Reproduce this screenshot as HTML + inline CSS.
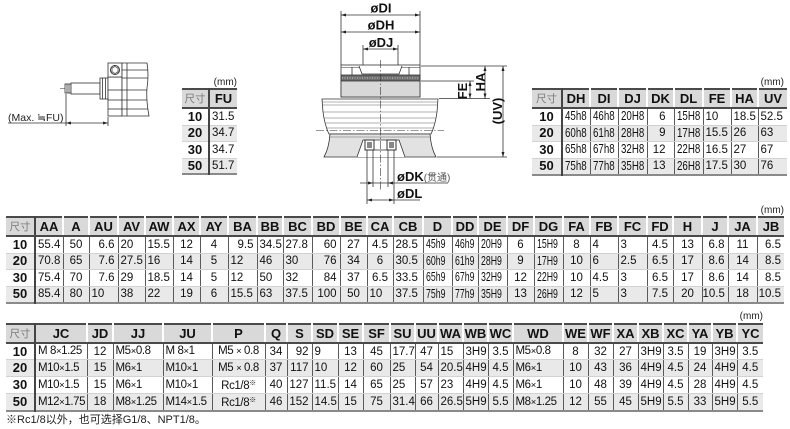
<!DOCTYPE html>
<html><head><meta charset="utf-8">
<style>
*{margin:0;padding:0;box-sizing:border-box}
html,body{width:790px;height:429px;overflow:hidden;background:#fff;font-family:"Liberation Sans","Noto Sans CJK SC",sans-serif;color:#1a1a1a}
.a{position:absolute}
.mm{position:absolute;font-size:10px;line-height:12px;color:#222;text-align:right}
table{position:absolute;border-collapse:collapse;table-layout:fixed;border-top:2px solid #4a4a4a;border-bottom:2px solid #8a8a8a;font-size:11.5px;line-height:14px;color:#111}
td{padding:0 0 0 2px;white-space:nowrap;overflow:hidden;border-left:1px solid #5a5a5a;border-bottom:1px solid #d2d2d2;text-align:left;vertical-align:middle}
tr.h td{background:#d9d9d9;font-weight:bold;font-size:13px;text-align:center;border-left:2px solid #fff;border-bottom:2px solid #4a4a4a;color:#111;padding:0}
tr.h td.z{font-weight:normal;font-size:10.5px;color:#7a7a7a}
tr.g td{background:#e9e9e9}
td.s{font-weight:bold;font-size:13px;text-align:center;border-left:none;padding:0}
td:nth-child(2){border-left:2px solid #444}
tr.h td:first-child{border-left:none}
tr.h td:nth-child(2){border-left:2px solid #444}
.c{text-align:center;padding:0}
.r{text-align:right;padding:0 3px 0 0}
.k{display:inline-block;transform:scaleX(.7);transform-origin:0 50%;font-size:12.5px}
.k2{display:inline-block;transform:scaleX(.78);transform-origin:0 50%;font-size:12.5px}
.m{font-size:11.5px;letter-spacing:-0.4px}
.m i{font-style:normal;font-size:9.5px}
sup{font-size:7px;vertical-align:4px}
.note{position:absolute;left:6px;top:413px;font-size:11px;line-height:14px;color:#222}
</style></head><body>

<svg class="a" style="left:0;top:0" width="790" height="429" viewBox="0 0 790 429">
<g stroke="#333" stroke-width="0.8" fill="none">
 <line x1="60" y1="88.5" x2="114" y2="88.5" stroke-dasharray="7,2,1.5,2" stroke-width="0.6"/>
 <rect x="65" y="84" width="6" height="9" fill="#fff"/>
 <line x1="67" y1="84" x2="67" y2="93"/><line x1="69" y1="84" x2="69" y2="93"/>
 <rect x="71" y="83" width="29" height="11" fill="#fff"/>
 <rect x="100" y="78" width="8" height="21" fill="#fff"/>
 <line x1="102.5" y1="78" x2="102.5" y2="99"/><line x1="105.5" y1="78" x2="105.5" y2="99"/>
 <rect x="108" y="77" width="14" height="39" fill="#fff"/>
 <line x1="108" y1="90" x2="122" y2="90"/><line x1="108" y1="100" x2="122" y2="100"/><line x1="108" y1="109" x2="122" y2="109"/>
 <rect x="108" y="63" width="14" height="14" fill="#fff"/>
 <circle cx="115" cy="70" r="4.5" stroke-width="1"/>
 <polygon points="115,66.5 118,68.2 118,71.8 115,73.5 112,71.8 112,68.2" stroke-width="0.7"/>
 <path d="M122,63 L147,63 Q149,75 147,88 Q146,100 149,116 L122,116 Z" fill="#fff"/>
 <line x1="122" y1="70" x2="147.5" y2="70"/><line x1="122" y1="78" x2="147.5" y2="78"/>
 <line x1="122" y1="90" x2="147" y2="90"/><line x1="122" y1="100" x2="147" y2="100"/><line x1="122" y1="109" x2="148" y2="109"/>
 <line x1="127" y1="63" x2="127" y2="116"/>
 <line x1="66" y1="94" x2="66" y2="126"/>
 <line x1="108" y1="117" x2="108" y2="126"/>
 <line x1="8" y1="123" x2="108" y2="123"/>

 <line x1="341" y1="11" x2="341" y2="65"/><line x1="420" y1="11" x2="420" y2="65"/>
 <line x1="341" y1="15" x2="420" y2="15"/>
 <line x1="341" y1="32" x2="420" y2="32"/>
 <line x1="363" y1="45" x2="363" y2="70"/><line x1="398" y1="45" x2="398" y2="70"/>
 <line x1="363" y1="49" x2="398" y2="49"/>
 <rect x="341" y="65" width="79" height="32" fill="#fff"/>
 <line x1="341" y1="67.5" x2="420" y2="67.5" stroke-width="0.6"/>
 <path d="M359,66 L362,74 L399,74 L402,66" fill="#fff"/>
 <line x1="352" y1="67" x2="352" y2="75"/><line x1="409" y1="67" x2="409" y2="75"/>
 <rect x="341" y="75" width="79" height="6" fill="#6e6e6e" stroke="#333"/>
 <line x1="342" y1="78" x2="419" y2="78" stroke="#cfcfcf" stroke-dasharray="1,1.5" stroke-width="1"/>
 <rect x="341" y="81" width="79" height="16" fill="#d8d8d8"/>
 <path d="M322,99 L438,99 L437,112 Q435,126 431,134 L329,134 Q325,126 323,112 Z" fill="#fff"/>
 <path d="M330,134 L430,134 Q431,148 436,157 L324,157 Q329,148 330,134 Z" fill="#e2e2e2"/>
 <path d="M357,157 L363,140 L399,140 L405,157" fill="#fff"/>
 <g stroke="#666" stroke-width="0.6">
  <line x1="322" y1="102" x2="438" y2="102"/><line x1="322.5" y1="105" x2="437.5" y2="105"/>
  <line x1="323" y1="112" x2="437" y2="112"/><line x1="324" y1="118" x2="436" y2="118"/>
  <line x1="325" y1="123" x2="435" y2="123"/><line x1="327" y1="128" x2="433" y2="128"/>
  <line x1="330" y1="137" x2="430" y2="137"/>
 </g>
 <line x1="316" y1="130.5" x2="444" y2="130.5" stroke-dasharray="8,2,1.5,2" stroke-width="0.6"/>
 <rect x="365" y="140" width="9" height="10" fill="#fff" stroke-width="1"/>
 <rect x="367" y="142" width="5" height="6" fill="#888" stroke="none"/>
 <rect x="387" y="140" width="9" height="10" fill="#fff" stroke-width="1"/>
 <rect x="389" y="142" width="5" height="6" fill="#888" stroke="none"/>
 <line x1="374" y1="150" x2="387" y2="150"/>
 <line x1="380.5" y1="60" x2="380.5" y2="190" stroke-dasharray="8,2,1.5,2" stroke-width="0.6"/>
 <line x1="421" y1="66" x2="507" y2="66"/>
 <line x1="421" y1="81" x2="474" y2="81"/>
 <line x1="439" y1="98.5" x2="490" y2="98.5"/>
 <line x1="437" y1="157" x2="507" y2="157"/>
 <line x1="485" y1="66" x2="485" y2="98.5"/>
 <line x1="470" y1="81" x2="470" y2="98.5"/>
 <line x1="503" y1="66" x2="503" y2="157"/>
 <line x1="367" y1="150" x2="367" y2="204"/><line x1="373" y1="150" x2="373" y2="187"/>
 <line x1="388" y1="150" x2="388" y2="187"/><line x1="394" y1="150" x2="394" y2="204"/>
 <line x1="360" y1="183" x2="448" y2="183"/>
 <line x1="367" y1="200" x2="420" y2="200"/>
</g>
<g fill="#222" stroke="none">
 <polygon points="66,123 71,121.5 71,124.5"/><polygon points="108,123 103,121.5 103,124.5"/>
 <polygon points="341,15 346,13.5 346,16.5"/><polygon points="420,15 415,13.5 415,16.5"/>
 <polygon points="341,32 346,30.5 346,33.5"/><polygon points="420,32 415,30.5 415,33.5"/>
 <polygon points="363,49 368,47.5 368,50.5"/><polygon points="398,49 393,47.5 393,50.5"/>
 <polygon points="485,66 483.5,71 486.5,71"/><polygon points="485,98.5 483.5,93.5 486.5,93.5"/>
 <polygon points="470,81 468.5,86 471.5,86"/><polygon points="470,98.5 468.5,93.5 471.5,93.5"/>
 <polygon points="503,66 501.5,71 504.5,71"/><polygon points="503,157 501.5,152 504.5,152"/>
 <polygon points="373,183 368,181.5 368,184.5"/><polygon points="388,183 393,181.5 393,184.5"/>
 <polygon points="367,200 372,198.5 372,201.5"/><polygon points="394,200 389,198.5 389,201.5"/>
</g>
<g font-family="Liberation Sans, sans-serif" font-weight="bold" font-size="13" fill="#111">
 <text x="381" y="12.5" text-anchor="middle">øDI</text>
 <text x="381" y="29.5" text-anchor="middle">øDH</text>
 <text x="381" y="47" text-anchor="middle">øDJ</text>
 <text transform="translate(467,91) rotate(-90)" text-anchor="middle">FE</text>
 <text transform="translate(485,82) rotate(-90)" text-anchor="middle">HA</text>
 <text transform="translate(502,111) rotate(-90)" text-anchor="middle">(UV)</text>
 <text x="397" y="181">øDK<tspan font-weight="normal" font-size="10" fill="#555" font-family="Liberation Sans, Noto Sans CJK SC, sans-serif">(贯通)</tspan></text>
 <text x="397" y="198">øDL</text>
</g>
<text x="8" y="121" font-family="Liberation Sans, sans-serif" font-size="10.5" fill="#222">(Max. ≒FU)</text>
</svg>

<div class="mm" style="left:200px;top:77px;width:37px">(mm)</div>
<table style="left:182px;top:88px;width:55px">
<colgroup><col style="width:27px"><col style="width:28px"></colgroup>
<tr class="h" style="height:19px"><td class="z">尺寸</td><td>FU</td></tr>
<tr style="height:17px"><td class="s">10</td><td>31.5</td></tr>
<tr class="g" style="height:16px"><td class="s">20</td><td>34.7</td></tr>
<tr style="height:17px"><td class="s">30</td><td>34.7</td></tr>
<tr class="g" style="height:16px"><td class="s">50</td><td>51.7</td></tr>
</table>

<div class="mm" style="left:740px;top:77px;width:44px">(mm)</div>
<table style="left:532px;top:88px;width:255px">
<colgroup><col style="width:30px"><col style="width:28px"><col style="width:28px"><col style="width:29px"><col style="width:27px"><col style="width:29px"><col style="width:28px"><col style="width:27px"><col style="width:29px"></colgroup>
<tr class="h" style="height:19px"><td class="z">尺寸</td><td>DH</td><td>DI</td><td>DJ</td><td>DK</td><td>DL</td><td>FE</td><td>HA</td><td>UV</td></tr>
<tr style="height:17px"><td class="s">10</td><td><span class="k2">45h8</span></td><td><span class="k2">46h8</span></td><td><span class="k2">20H8</span></td><td class="r" style="padding-right:8px">6</td><td><span class="k2">15H8</span></td><td>10</td><td>18.5</td><td>52.5</td></tr>
<tr class="g" style="height:16px"><td class="s">20</td><td><span class="k2">60h8</span></td><td><span class="k2">61h8</span></td><td><span class="k2">28H8</span></td><td class="r" style="padding-right:8px">9</td><td><span class="k2">17H8</span></td><td>15.5</td><td>26</td><td>63</td></tr>
<tr style="height:17px"><td class="s">30</td><td><span class="k2">65h8</span></td><td><span class="k2">67h8</span></td><td><span class="k2">32H8</span></td><td class="r" style="padding-right:8px">12</td><td><span class="k2">22H8</span></td><td>16.5</td><td>27</td><td>67</td></tr>
<tr class="g" style="height:16px"><td class="s">50</td><td><span class="k2">75h8</span></td><td><span class="k2">77h8</span></td><td><span class="k2">35H8</span></td><td class="r" style="padding-right:8px">13</td><td><span class="k2">26H8</span></td><td>17.5</td><td>30</td><td>76</td></tr>
</table>

<div class="mm" style="left:740px;top:205px;width:44px">(mm)</div>
<table style="left:6px;top:216px;width:778px">
<colgroup><col style="width:29px"><col style="width:28px"><col style="width:26px"><col style="width:29px"><col style="width:27px"><col style="width:28px"><col style="width:27px"><col style="width:28px"><col style="width:29px"><col style="width:26px"><col style="width:29px"><col style="width:28px"><col style="width:27px"><col style="width:26px"><col style="width:30px"><col style="width:29px"><col style="width:26px"><col style="width:29px"><col style="width:27px"><col style="width:29px"><col style="width:27px"><col style="width:28px"><col style="width:29px"><col style="width:26px"><col style="width:29px"><col style="width:26px"><col style="width:29px"><col style="width:27px"></colgroup>
<tr class="h" style="height:19px"><td class="z">尺寸</td><td>AA</td><td>A</td><td>AU</td><td>AV</td><td>AW</td><td>AX</td><td>AY</td><td>BA</td><td>BB</td><td>BC</td><td>BD</td><td>BE</td><td>CA</td><td>CB</td><td>D</td><td>DD</td><td>DE</td><td>DF</td><td>DG</td><td>FA</td><td>FB</td><td>FC</td><td>FD</td><td>H</td><td>J</td><td>JA</td><td>JB</td></tr>
<tr style="height:17px"><td class="s">10</td><td>55.4</td><td class="c">50</td><td class="r">6.6</td><td>20</td><td>15.5</td><td class="c">12</td><td class="c">4</td><td class="r">9.5</td><td>34.5</td><td>27.8</td><td class="r">60</td><td class="c">27</td><td class="c">4.5</td><td>28.5</td><td><span class="k">45h9</span></td><td><span class="k">46h9</span></td><td><span class="k">20H9</span></td><td class="c">6</td><td><span class="k">15H9</span></td><td class="c">8</td><td>4</td><td>3</td><td class="c">4.5</td><td class="c">13</td><td class="r">6.8</td><td class="c">11</td><td class="r">6.5</td></tr>
<tr class="g" style="height:16px"><td class="s">20</td><td>70.8</td><td class="c">65</td><td class="r">7.6</td><td>27.5</td><td>16</td><td class="c">14</td><td class="c">5</td><td>12</td><td>46</td><td>30</td><td class="r">76</td><td class="c">34</td><td class="c">6</td><td>30.5</td><td><span class="k">60h9</span></td><td><span class="k">61h9</span></td><td><span class="k">28H9</span></td><td class="c">9</td><td><span class="k">17H9</span></td><td class="c">10</td><td>6</td><td>2.5</td><td class="c">6.5</td><td class="c">17</td><td class="r">8.6</td><td class="c">14</td><td class="r">8.5</td></tr>
<tr style="height:17px"><td class="s">30</td><td>75.4</td><td class="c">70</td><td class="r">7.6</td><td>29</td><td>18.5</td><td class="c">14</td><td class="c">5</td><td>12</td><td>50</td><td>32</td><td class="r">84</td><td class="c">37</td><td class="c">6.5</td><td>33.5</td><td><span class="k">65h9</span></td><td><span class="k">67h9</span></td><td><span class="k">32H9</span></td><td class="c">12</td><td><span class="k">22H9</span></td><td class="c">10</td><td>4.5</td><td>3</td><td class="c">6.5</td><td class="c">17</td><td class="r">8.6</td><td class="c">14</td><td class="r">8.5</td></tr>
<tr class="g" style="height:17px"><td class="s">50</td><td>85.4</td><td class="c">80</td><td>10</td><td>38</td><td>22</td><td class="c">19</td><td class="c">6</td><td>15.5</td><td>63</td><td>37.5</td><td class="r">100</td><td class="c">50</td><td>10</td><td>37.5</td><td><span class="k">75h9</span></td><td><span class="k">77h9</span></td><td><span class="k">35H9</span></td><td class="c">13</td><td><span class="k">26H9</span></td><td class="c">12</td><td>5</td><td>3</td><td class="c">7.5</td><td class="c">20</td><td class="r">10.5</td><td class="c">18</td><td class="r">10.5</td></tr>
</table>

<div class="mm" style="left:719px;top:311px;width:44px">(mm)</div>
<table style="left:6px;top:323px;width:757px">
<colgroup><col style="width:29px"><col style="width:52px"><col style="width:26px"><col style="width:50px"><col style="width:49px"><col style="width:53px"><col style="width:22px"><col style="width:25px"><col style="width:26px"><col style="width:25px"><col style="width:27px"><col style="width:25px"><col style="width:23px"><col style="width:25px"><col style="width:25px"><col style="width:25px"><col style="width:50px"><col style="width:25px"><col style="width:25px"><col style="width:25px"><col style="width:25px"><col style="width:25px"><col style="width:24px"><col style="width:25px"><col style="width:26px"></colgroup>
<tr class="h" style="height:19px"><td class="z">尺寸</td><td>JC</td><td>JD</td><td>JJ</td><td>JU</td><td>P</td><td>Q</td><td>S</td><td>SD</td><td>SE</td><td>SF</td><td>SU</td><td>UU</td><td>WA</td><td>WB</td><td>WC</td><td>WD</td><td>WE</td><td>WF</td><td>XA</td><td>XB</td><td>XC</td><td>YA</td><td>YB</td><td>YC</td></tr>
<tr style="height:16px"><td class="s">10</td><td class="m">M 8<i>×</i>1.25</td><td class="c">12</td><td class="m">M5<i>×</i>0.8</td><td class="m">M 8<i>×</i>1</td><td class="m c">M5 <i>×</i> 0.8</td><td class="c">34</td><td class="r">92</td><td>9</td><td class="c">13</td><td class="c">45</td><td>17.7</td><td class="c">47</td><td>15</td><td>3H9</td><td class="c">3.5</td><td class="m">M5<i>×</i>0.8</td><td class="c">8</td><td class="c">32</td><td class="c">27</td><td>3H9</td><td class="c">3.5</td><td class="c">19</td><td>3H9</td><td class="c">3.5</td></tr>
<tr class="g" style="height:17px"><td class="s">20</td><td class="m">M10<i>×</i>1.5</td><td class="c">15</td><td class="m">M6<i>×</i>1</td><td class="m">M10<i>×</i>1</td><td class="m c">M5 <i>×</i> 0.8</td><td class="c">37</td><td class="r">117</td><td>10</td><td class="c">12</td><td class="c">60</td><td>25</td><td class="c">54</td><td>20.5</td><td>4H9</td><td class="c">4.5</td><td class="m">M6<i>×</i>1</td><td class="c">10</td><td class="c">43</td><td class="c">36</td><td>4H9</td><td class="c">4.5</td><td class="c">24</td><td>4H9</td><td class="c">4.5</td></tr>
<tr style="height:17px"><td class="s">30</td><td class="m">M10<i>×</i>1.5</td><td class="c">15</td><td class="m">M6<i>×</i>1</td><td class="m">M10<i>×</i>1</td><td class="m c">Rc1/8<sup>※</sup></td><td class="c">40</td><td class="r">127</td><td>11.5</td><td class="c">14</td><td class="c">65</td><td>25</td><td class="c">57</td><td>23</td><td>4H9</td><td class="c">4.5</td><td class="m">M6<i>×</i>1</td><td class="c">10</td><td class="c">48</td><td class="c">39</td><td>4H9</td><td class="c">4.5</td><td class="c">28</td><td>4H9</td><td class="c">4.5</td></tr>
<tr class="g" style="height:16px"><td class="s">50</td><td class="m">M12<i>×</i>1.75</td><td class="c">18</td><td class="m">M8<i>×</i>1.25</td><td class="m">M14<i>×</i>1.5</td><td class="m c">Rc1/8<sup>※</sup></td><td class="c">46</td><td class="r">152</td><td>14.5</td><td class="c">15</td><td class="c">75</td><td>31.4</td><td class="c">66</td><td>26.5</td><td>5H9</td><td class="c">5.5</td><td class="m">M8<i>×</i>1.25</td><td class="c">12</td><td class="c">55</td><td class="c">45</td><td>5H9</td><td class="c">5.5</td><td class="c">33</td><td>5H9</td><td class="c">5.5</td></tr>
</table>

<div class="note">※Rc1/8以外，也可选择G1/8、NPT1/8。</div>
</body></html>
